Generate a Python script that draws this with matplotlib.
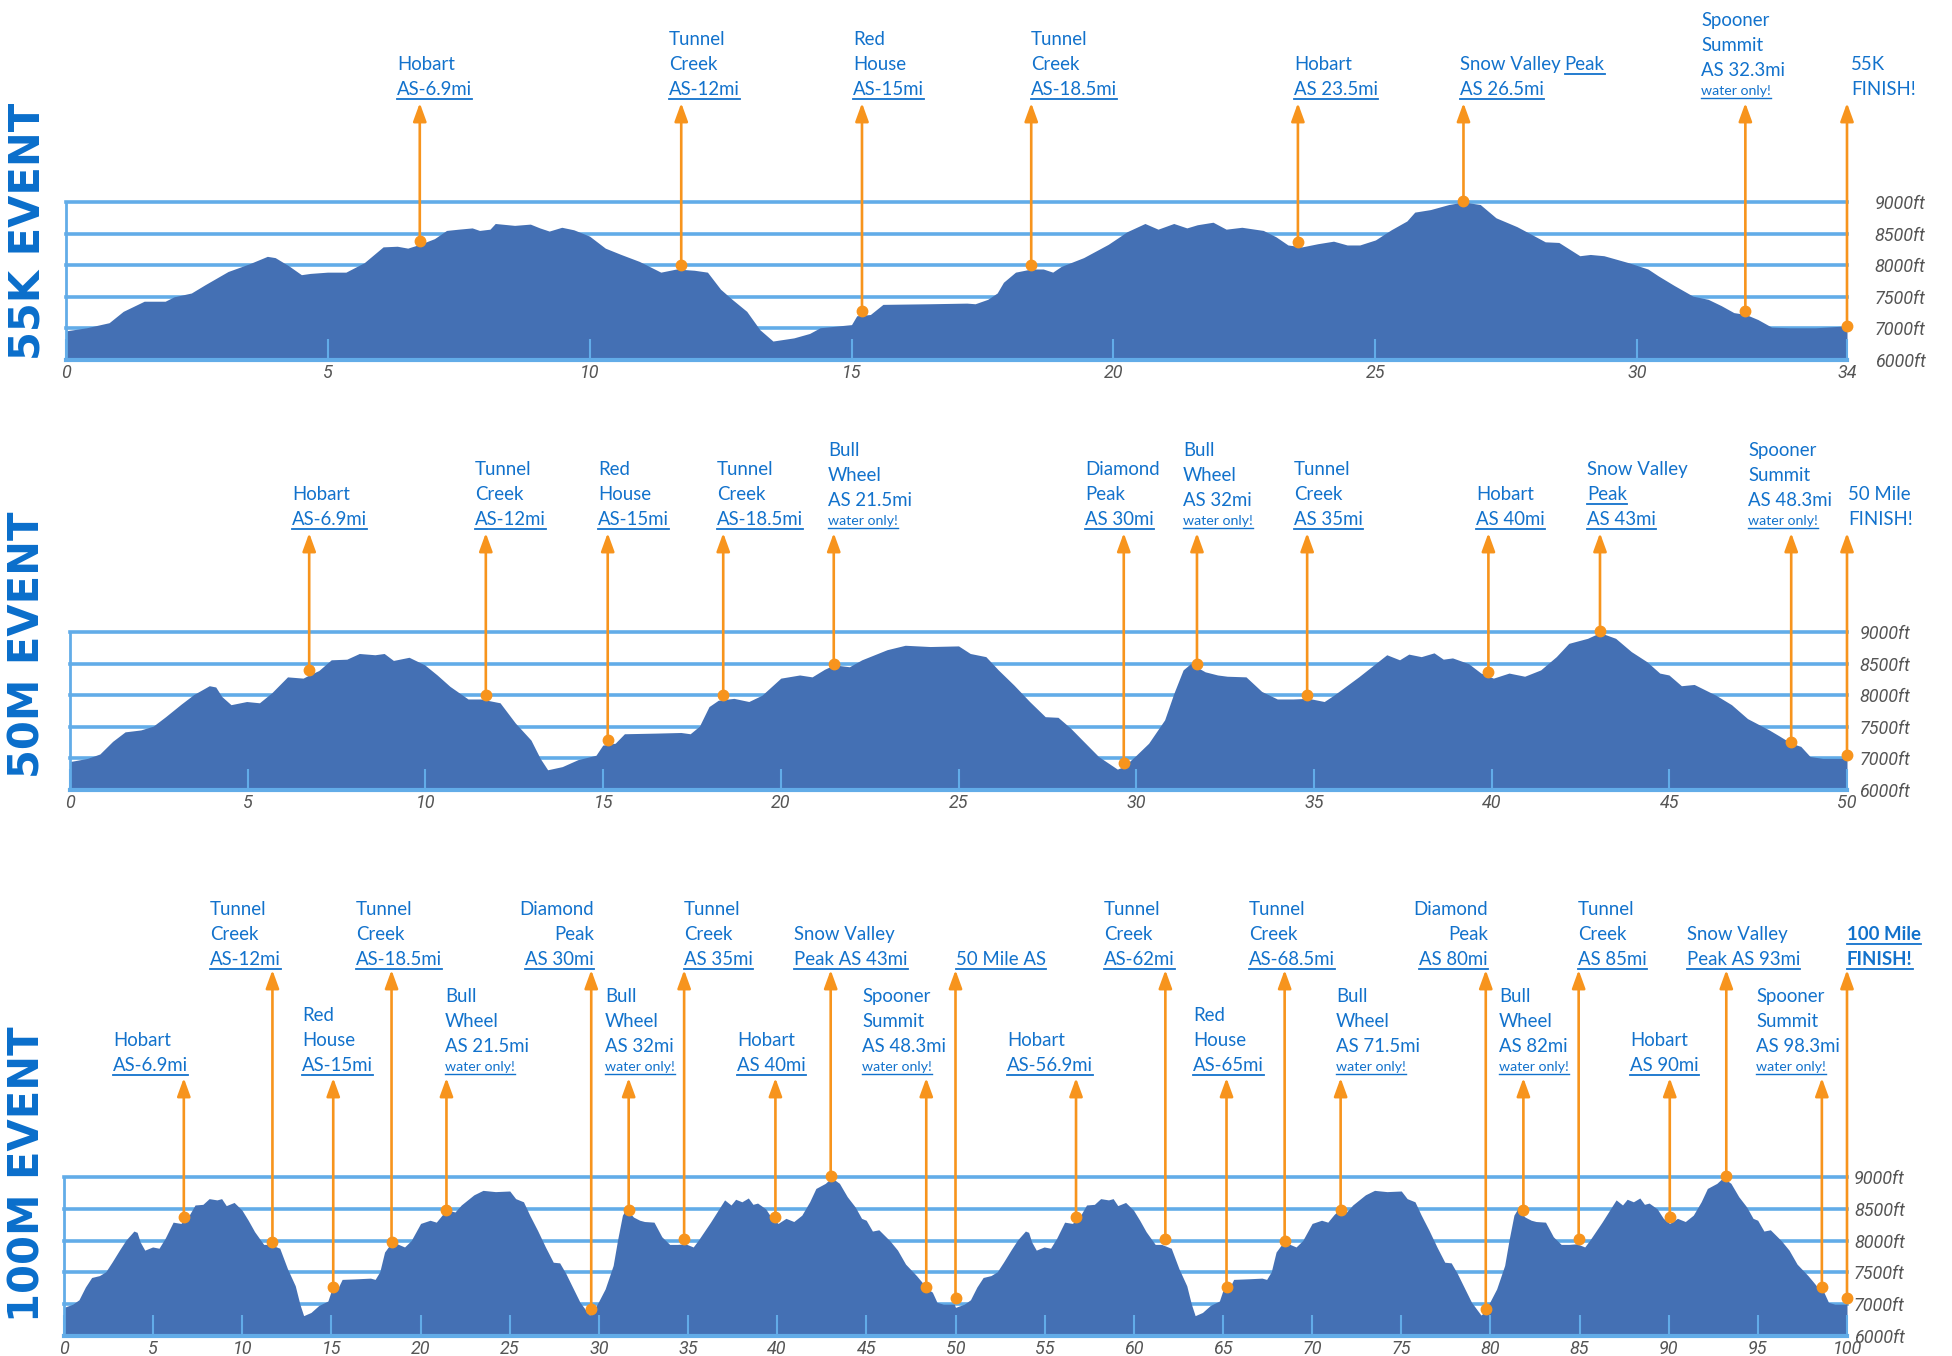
import matplotlib
matplotlib.use('Agg')
import matplotlib.pyplot as plt
from matplotlib import font_manager as fm
from matplotlib.transforms import blended_transform_factory
from matplotlib.lines import Line2D

# ---------------- data ----------------
# 55K elevation profile (miles, feet)
p55_mi = [0.00, 0.40, 0.83, 1.10, 1.50, 1.90, 2.07, 2.40, 2.66, 3.10, 3.50, 3.85, 4.00, 4.26, 4.50, 4.67,
          5.00, 5.35, 5.70, 6.06, 6.33, 6.53, 6.76, 7.04, 7.27, 7.50, 7.76, 7.90, 8.10, 8.20, 8.57, 8.87,
          9.05, 9.23, 9.47, 9.70, 10.00, 10.30, 10.60, 10.95, 11.36, 11.66, 12.00, 12.25, 12.50, 12.72,
          13.00, 13.25, 13.50, 13.90, 14.20, 14.40, 15.00, 15.10, 15.36, 15.60, 16.50, 17.20, 17.36, 17.60,
          17.78, 17.90, 18.13, 18.43, 18.66, 18.84, 19.00, 19.43, 19.90, 20.26, 20.60, 20.85, 21.15, 21.40,
          21.60, 21.90, 22.15, 22.45, 22.86, 23.10, 23.33, 23.60, 23.90, 24.20, 24.46, 24.70, 25.00, 25.30,
          25.60, 25.75, 26.05, 26.40, 26.68, 27.00, 27.30, 27.70, 27.95, 28.24, 28.50, 28.90, 29.10, 29.36,
          29.83, 30.20, 30.40, 30.70, 31.06, 31.35, 31.60, 31.84, 32.07, 32.30, 32.56, 32.90, 33.40, 34.00]
p55_ft = [6960, 7010, 7090, 7270, 7430, 7430, 7500, 7560, 7690, 7900, 8020, 8140, 8120, 7990, 7850, 7870,
          7890, 7890, 8040, 8290, 8300, 8270, 8330, 8420, 8550, 8570, 8590, 8550, 8570, 8660, 8630, 8650,
          8590, 8540, 8600, 8560, 8460, 8270, 8170, 8060, 7890, 7940, 7920, 7890, 7620, 7460,
          7270, 6980, 6800, 6850, 6920, 7010, 7060, 7200, 7220, 7380, 7390, 7400, 7390, 7460,
          7560, 7730, 7890, 7940, 7940, 7890, 7980, 8120, 8330, 8530, 8660, 8570, 8660, 8590,
          8640, 8680, 8570, 8600, 8550, 8450, 8320, 8290, 8340, 8380, 8320, 8320, 8400, 8560,
          8700, 8840, 8880, 8960, 9000, 8960, 8750, 8610, 8500, 8370, 8360, 8150, 8170, 8150,
          8040, 7940, 7830, 7680, 7510, 7460, 7360, 7250, 7220, 7140, 7020, 7010, 7010, 7040]

# 50 mile elevation profile
p50_mi = [0.00, 0.49, 0.84, 1.20, 1.55, 1.99, 2.34, 2.69, 3.13, 3.48, 3.92, 4.10, 4.27, 4.53, 4.97, 5.33,
          5.68, 6.12, 6.56, 6.73, 7.00, 7.35, 7.79, 8.14, 8.58, 8.84, 9.10, 9.54, 9.98, 10.33, 10.69, 11.20,
          11.56, 12.10, 12.53, 12.97, 13.23, 13.44, 13.85, 14.29, 14.80, 14.99, 15.34, 15.60, 16.48, 17.19,
          17.45, 17.71, 17.98, 18.24, 18.68, 19.10, 19.47, 20.00, 20.53, 20.88, 21.23, 21.50, 21.93, 22.28,
          22.99, 23.50, 24.20, 25.00, 25.33, 25.77, 26.12, 26.56, 27.00, 27.44, 27.80, 28.15, 28.50, 28.94,
          29.47, 29.65, 30.00, 30.35, 30.80, 31.06, 31.32, 31.53, 31.94, 32.29, 32.56, 33.09, 33.53, 33.97,
          34.41, 34.85, 35.29, 35.56, 36.26, 37.05, 37.41, 37.67, 38.02, 38.38, 38.64, 38.90, 39.35, 39.70,
          40.05, 40.49, 40.93, 41.38, 41.82, 42.17, 42.70, 43.05, 43.49, 43.93, 44.37, 44.73, 44.99, 45.34,
          45.70, 46.31, 46.75, 47.20, 47.81, 48.08, 48.43, 48.70, 48.96, 49.32, 49.93, 50.00]
p50_ft = [6950, 7000, 7070, 7270, 7420, 7450, 7510, 7660, 7860, 8010, 8150, 8130, 7980, 7850, 7900, 7880,
          8040, 8290, 8270, 8320, 8390, 8560, 8570, 8660, 8640, 8660, 8550, 8600, 8480, 8320, 8140, 7940,
          7940, 7880, 7560, 7290, 7000, 6820, 6870, 6980, 7050, 7210, 7240, 7390, 7400, 7410,
          7390, 7510, 7820, 7920, 7950, 7900, 8000, 8270, 8320, 8290, 8410, 8480, 8450, 8560,
          8720, 8790, 8770, 8780, 8660, 8610, 8400, 8160, 7900, 7660, 7650, 7480, 7280, 7030,
          6830, 6870, 7050, 7240, 7610, 8030, 8400, 8500, 8370, 8320, 8300, 8290, 8060, 7940,
          7940, 7950, 7900, 8000, 8290, 8640, 8560, 8650, 8610, 8670, 8570, 8590, 8500, 8350,
          8270, 8350, 8300, 8400, 8610, 8820, 8900, 8990, 8900, 8690, 8530, 8350, 8320, 8150,
          8170, 8000, 7850, 7630, 7450, 7360, 7240, 7190, 7030, 7000, 7000, 7030]

# 100 mile elevation profile (the 50 mile loop run twice, as drawn)
p100_mi = [0.00, 0.49, 0.84, 1.20, 1.55, 1.99, 2.34, 2.69, 3.13, 3.48, 3.92, 4.10, 4.27, 4.53, 4.97, 5.33,
           5.68, 6.12, 6.56, 6.73, 7.00, 7.35, 7.79, 8.14, 8.58, 8.84, 9.10, 9.54, 9.98, 10.33, 10.69, 11.20,
           11.56, 12.10, 12.53, 12.97, 13.23, 13.44, 13.85, 14.29, 14.80, 14.99, 15.34, 15.60, 16.48, 17.19,
           17.45, 17.71, 17.98, 18.24, 18.68, 19.10, 19.47, 20.00, 20.53, 20.88, 21.23, 21.50, 21.93, 22.28,
           22.99, 23.50, 24.20, 25.00, 25.33, 25.77, 26.12, 26.56, 27.00, 27.44, 27.80, 28.15, 28.50, 28.94,
           29.47, 29.65, 30.00, 30.35, 30.80, 31.06, 31.32, 31.53, 31.94, 32.29, 32.56, 33.09, 33.53, 33.97,
           34.41, 34.85, 35.29, 35.56, 36.26, 37.05, 37.41, 37.67, 38.02, 38.38, 38.64, 38.90, 39.35, 39.70,
           40.05, 40.49, 40.93, 41.38, 41.82, 42.17, 42.70, 43.05, 43.49, 43.93, 44.37, 44.73, 44.99, 45.34,
           45.70, 46.31, 46.75, 47.20, 47.81, 48.08, 48.43, 48.70, 48.96, 49.32, 49.93,
           50.00, 50.49, 50.84, 51.20, 51.55, 51.99, 52.34, 52.69, 53.13, 53.48, 53.92, 54.10, 54.27, 54.53,
           54.97, 55.33, 55.68, 56.12, 56.56, 56.73, 57.00, 57.35, 57.79, 58.14, 58.58, 58.84, 59.10, 59.54,
           59.98, 60.33, 60.69, 61.20, 61.56, 62.10, 62.53, 62.97, 63.23, 63.44, 63.85, 64.29, 64.80, 64.99,
           65.34, 65.60, 66.48, 67.19, 67.45, 67.71, 67.98, 68.24, 68.68, 69.10, 69.47, 70.00, 70.53, 70.88,
           71.23, 71.50, 71.93, 72.28, 72.99, 73.50, 74.20, 75.00, 75.33, 75.77, 76.12, 76.56, 77.00, 77.44,
           77.80, 78.15, 78.50, 78.94, 79.47, 79.65, 80.00, 80.35, 80.80, 81.06, 81.32, 81.53, 81.94, 82.29,
           82.56, 83.09, 83.53, 83.97, 84.41, 84.85, 85.29, 85.56, 86.26, 87.05, 87.41, 87.67, 88.02, 88.38,
           88.64, 88.90, 89.35, 89.70, 90.05, 90.49, 90.93, 91.38, 91.82, 92.17, 92.70, 93.05, 93.49, 93.93,
           94.37, 94.73, 94.99, 95.34, 95.70, 96.31, 96.75, 97.20, 97.81, 98.08, 98.43, 98.70, 98.96, 99.32,
           99.93, 100.00]
p100_ft = [6950, 7000, 7070, 7270, 7420, 7450, 7510, 7660, 7860, 8010, 8150, 8130, 7980, 7850, 7900, 7880,
           8040, 8290, 8270, 8320, 8390, 8560, 8570, 8660, 8640, 8660, 8550, 8600, 8480, 8320, 8140, 7940,
           7940, 7880, 7560, 7290, 7000, 6820, 6870, 6980, 7050, 7210, 7240, 7390, 7400, 7410,
           7390, 7510, 7820, 7920, 7950, 7900, 8000, 8270, 8320, 8290, 8410, 8480, 8450, 8560,
           8720, 8790, 8770, 8780, 8660, 8610, 8400, 8160, 7900, 7660, 7650, 7480, 7280, 7030,
           6830, 6870, 7050, 7240, 7610, 8030, 8400, 8500, 8370, 8320, 8300, 8290, 8060, 7940,
           7940, 7950, 7900, 8000, 8290, 8640, 8560, 8650, 8610, 8670, 8570, 8590, 8500, 8350,
           8270, 8350, 8300, 8400, 8610, 8820, 8900, 8990, 8900, 8690, 8530, 8350, 8320, 8150,
           8170, 8000, 7850, 7630, 7450, 7360, 7240, 7190, 7030, 7000, 7000,
           6950, 7000, 7070, 7270, 7420, 7450, 7510, 7660, 7860, 8010, 8150, 8130, 7980, 7850,
           7900, 7880, 8040, 8290, 8270, 8320, 8390, 8560, 8570, 8660, 8640, 8660, 8550, 8600,
           8480, 8320, 8140, 7940, 7940, 7880, 7560, 7290, 7000, 6820, 6870, 6980, 7050, 7210,
           7240, 7390, 7400, 7410, 7390, 7510, 7820, 7920, 7950, 7900, 8000, 8270, 8320, 8290,
           8410, 8480, 8450, 8560, 8720, 8790, 8770, 8780, 8660, 8610, 8400, 8160, 7900, 7660,
           7650, 7480, 7280, 7030, 6830, 6870, 7050, 7240, 7610, 8030, 8400, 8500, 8370, 8320,
           8300, 8290, 8060, 7940, 7940, 7950, 7900, 8000, 8290, 8640, 8560, 8650, 8610, 8670,
           8570, 8590, 8500, 8350, 8270, 8350, 8300, 8400, 8610, 8820, 8900, 8990, 8900, 8690,
           8530, 8350, 8320, 8150, 8170, 8000, 7850, 7630, 7450, 7360, 7240, 7190, 7030, 7000,
           7000, 7030]

# Aid stations: mile of marker, elevation of marker, label text
# markup: '\n' new line, '|' new segment, leading '_' underlined, leading '^' bold
s55_mi = [6.76, 11.75, 15.2, 18.43, 23.52, 26.68, 32.06, 34.0]
s55_ft = [8380, 8000, 7280, 8000, 8370, 9010, 7280, 7040]
s55_txt = ["Hobart\n_AS-6.9mi", "Tunnel\nCreek\n_AS-12mi", "Red\nHouse\n_AS-15mi",
           "Tunnel\nCreek\n_AS-18.5mi", "Hobart\n_AS 23.5mi", "Snow Valley|_Peak\n_AS 26.5mi",
           "Spooner\nSummit\nAS 32.3mi\n_water only!", "55K\nFINISH!"]

s50_mi = [6.73, 11.7, 15.13, 18.38, 21.49, 29.65, 31.71, 34.81, 39.91, 43.05, 48.43, 50.0]
s50_ft = [8400, 8000, 7290, 8000, 8500, 6920, 8500, 8000, 8370, 9015, 7265, 7055]
s50_txt = ["Hobart\n_AS-6.9mi", "Tunnel\nCreek\n_AS-12mi", "Red\nHouse\n_AS-15mi",
           "Tunnel\nCreek\n_AS-18.5mi", "Bull\nWheel\nAS 21.5mi\n_water only!",
           "Diamond\nPeak\n_AS 30mi", "Bull\nWheel\nAS 32mi\n_water only!", "Tunnel\nCreek\n_AS 35mi",
           "Hobart\n_AS 40mi", "Snow Valley\n_Peak\n_AS 43mi",
           "Spooner\nSummit\nAS 48.3mi\n_water only!", "50 Mile\nFINISH!"]

s100_mi = [6.72, 11.69, 15.1, 18.37, 21.45, 29.57, 31.67, 34.78, 39.9, 43.0, 48.36, 50.0,
           56.76, 61.77, 65.2, 68.46, 71.6, 79.74, 81.85, 84.95, 90.06, 93.23, 98.59, 100.0]
s100_ft = [8370, 7985, 7275, 7985, 8485, 6917, 8485, 8020, 8364, 9010, 7264, 7090,
           8369, 8020, 7275, 7995, 8485, 6917, 8485, 8020, 8364, 9010, 7264, 7090]
s100_txt = ["Hobart\n_AS-6.9mi", "Tunnel\nCreek\n_AS-12mi", "Red\nHouse\n_AS-15mi",
            "Tunnel\nCreek\n_AS-18.5mi", "Bull\nWheel\nAS 21.5mi\n_water only!",
            "Diamond\nPeak\n_AS 30mi", "Bull\nWheel\nAS 32mi\n_water only!", "Tunnel\nCreek\n_AS 35mi",
            "Hobart\n_AS 40mi", "Snow Valley\n_Peak AS 43mi", "Spooner\nSummit\nAS 48.3mi\n_water only!",
            "_50 Mile AS", "Hobart\n_AS-56.9mi", "Tunnel\nCreek\n_AS-62mi", "Red\nHouse\n_AS-65mi",
            "Tunnel\nCreek\n_AS-68.5mi", "Bull\nWheel\nAS 71.5mi\n_water only!", "Diamond\nPeak\n_AS 80mi",
            "Bull\nWheel\nAS 82mi\n_water only!", "Tunnel\nCreek\n_AS 85mi", "Hobart\n_AS 90mi",
            "Snow Valley\n_Peak AS 93mi", "Spooner\nSummit\nAS 98.3mi\n_water only!", "_^100 Mile\n_^FINISH!"]

x55_ticks = [0, 5, 10, 15, 20, 25, 30, 34]
x50_ticks = [0, 5, 10, 15, 20, 25, 30, 35, 40, 45, 50]
x100_ticks = [0, 5, 10, 15, 20, 25, 30, 35, 40, 45, 50, 55, 60, 65, 70, 75, 80, 85, 90, 95, 100]
y_ticks = [6500, 7000, 7500, 8000, 8500, 9000]
y_ticklabels = ["6000ft", "7000ft", "7500ft", "8000ft", "8500ft", "9000ft"]
titles = ["55K EVENT", "50M EVENT", "100M EVENT"]

# ---------------- layout / style ----------------
W, H, DPI = 1952, 1356, 100
FILL = '#4470b4'
GRID = '#62ace8'
ORANGE = '#f7941d'
LABEL_C = '#1272cc'
TITLE_C = '#0a6ecb'
TICK_C = '#555555'

names = {f.name for f in fm.fontManager.ttflist}
def pick(*cands):
    for n in cands:
        if n in names:
            return n
    return 'DejaVu Sans'
LABEL_FONT = pick('Lato', 'Open Sans', 'Roboto')
TICK_FONT = pick('Liberation Sans Narrow', 'Roboto', 'Liberation Sans')

fig = plt.figure(figsize=(W / DPI, H / DPI), dpi=DPI)
fig.patch.set_facecolor('white')

def fx(x):
    return x / W

def fy(y):
    return 1 - y / H

renderer = fig.canvas.get_renderer()
underlines = []

def draw_label(x_px, base_px, text, ha='left'):
    lines = text.split('\n')
    ys = [0] * len(lines)
    y = base_px
    for i in range(len(lines) - 1, -1, -1):
        ys[i] = y
        small = 'water only' in lines[i]
        y -= 19 if small else 25
    for line, yb in zip(lines, ys):
        cursor = x_px
        for seg in line.split('|'):
            ul = seg.startswith('_')
            if ul:
                seg = seg[1:]
            bold = seg.startswith('^')
            if bold:
                seg = seg[1:]
            small = 'water only' in seg
            t = fig.text(fx(cursor), fy(yb), seg, ha=ha, va='baseline',
                         fontsize=10.2 if small else 13.4, color=LABEL_C,
                         family=LABEL_FONT, weight='bold' if bold else 'normal')
            bb = t.get_window_extent(renderer)
            if ul:
                underlines.append((bb.x0, bb.x1, yb + (2.5 if small else 3.5), 1.0 if small else 1.3))
            cursor = bb.x1 + 4

panels = [
    dict(title=titles[0], mi=p55_mi, ft=p55_ft, ticks=x55_ticks, box=(65.6, 202, 1847, 360),
         ypad=20, tbottom=360,
         smi=s55_mi, sft=s55_ft, stxt=s55_txt,
         lx=[397, 669, 853, 1031, 1294, 1460, 1701, 1851], tier=['a'] * 8,
         ha=['left'] * 8, tiers={'a': (95, 103)}),
    dict(title=titles[1], mi=p50_mi, ft=p50_ft, ticks=x50_ticks, box=(70, 632, 1847, 790),
         ypad=9, tbottom=778,
         smi=s50_mi, sft=s50_ft, stxt=s50_txt,
         lx=[292, 475, 598, 717, 828, 1085, 1183, 1294, 1476, 1587, 1748, 1848], tier=['a'] * 12,
         ha=['left'] * 12, tiers={'a': (525, 533)}),
    dict(title=titles[2], mi=p100_mi, ft=p100_ft, ticks=x100_ticks, box=(64, 1177, 1847, 1336),
         ypad=5, tbottom=1322,
         smi=s100_mi, sft=s100_ft, stxt=s100_txt,
         lx=[113, 210, 302, 356, 445, 594, 605, 684, 737, 794, 862, 956,
             1007, 1104, 1193, 1249, 1336, 1488, 1499, 1578, 1630, 1687, 1756, 1847],
         tier=['l', 'u', 'l', 'u', 'l', 'u', 'l', 'u', 'l', 'u', 'l', 'u',
               'l', 'u', 'l', 'u', 'l', 'u', 'l', 'u', 'l', 'u', 'l', 'u'],
         ha=['left'] * 5 + ['right'] + ['left'] * 11 + ['right'] + ['left'] * 6,
         tiers={'u': (965, 970), 'l': (1071, 1078)}),
]

for p in panels:
    x0, y0, x1, y1 = p['box']
    ax = fig.add_axes([fx(x0), fy(y1), (x1 - x0) / W, (y1 - y0) / H])
    ax.set_facecolor('none')
    ax.set_xlim(0, p['ticks'][-1])
    ax.set_ylim(6500, 9000)
    for v in y_ticks[1:]:
        ax.axhline(v, color=GRID, lw=2.6, zorder=1, clip_on=False)
    ax.fill_between(p['mi'], p['ft'], 6500, color=FILL, lw=0, zorder=2)
    ax.set_axisbelow(False)
    for s in ['top', 'right']:
        ax.spines[s].set_visible(False)
    ax.spines['left'].set_color(GRID)
    ax.spines['left'].set_linewidth(2)
    ax.spines['bottom'].set_color(GRID)
    ax.spines['bottom'].set_linewidth(3)
    ax.set_xticks(p['ticks'])
    ax.set_xticklabels([str(t) for t in p['ticks']], fontstyle='italic', family=TICK_FONT)
    ax.tick_params(axis='x', direction='in', length=15, width=1.5, color=GRID, pad=3,
                   labelsize=13, labelcolor=TICK_C)
    ax.yaxis.tick_right()
    ax.set_yticks(y_ticks)
    ax.set_yticklabels(y_ticklabels, fontstyle='italic', family=TICK_FONT)
    ax.tick_params(axis='y', length=0, pad=p['ypad'], labelsize=13, labelcolor=TICK_C)

    fig.text(fx(28), fy(p['tbottom']), p['title'], rotation=90, ha='center', va='bottom',
             fontsize=30, weight='bold', color=TITLE_C, family='DejaVu Sans')

    btf = blended_transform_factory(ax.transData, fig.transFigure)
    for m, e, txt, lx, tr, ha in zip(p['smi'], p['sft'], p['stxt'], p['lx'], p['tier'], p['ha']):
        base, top = p['tiers'][tr]
        ax.annotate('', xy=(m, fy(top)), xycoords=btf, xytext=(m, e), textcoords='data',
                    arrowprops=dict(arrowstyle='-|>,head_length=0.55,head_width=0.2', color=ORANGE,
                                    lw=1.9, shrinkA=0, shrinkB=0, mutation_scale=20),
                    annotation_clip=False, zorder=4)
        ax.plot([m], [e], marker='o', ms=7.5, color=ORANGE, mec=ORANGE, clip_on=False, zorder=5)
        draw_label(lx, base, txt, ha)

for xa, xb, y, lw in underlines:
    fig.add_artist(Line2D([xa / W, xb / W], [fy(y), fy(y)], transform=fig.transFigure,
                          color=LABEL_C, lw=lw))

fig.savefig('out.png', dpi=DPI, facecolor='white')
